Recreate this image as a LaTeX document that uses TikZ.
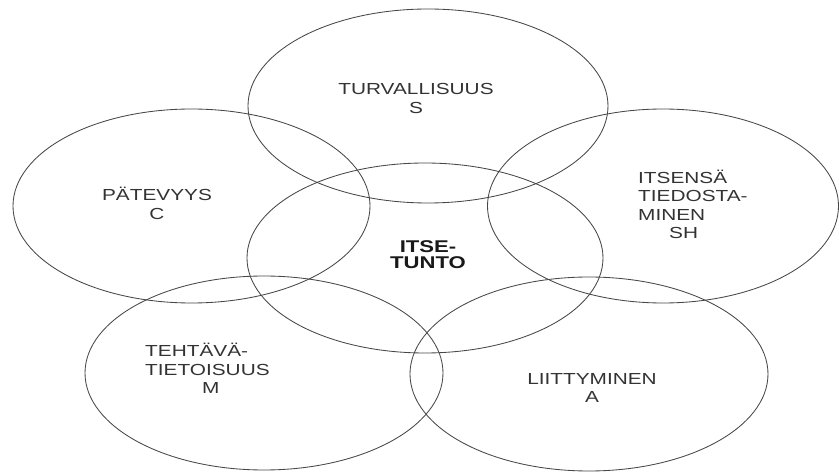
\documentclass[tikz,border=0pt]{standalone}
\usepackage{fontspec}
\setmainfont[FakeStretch=1.3]{Liberation Sans}
\begin{document}
\begin{tikzpicture}[x=1pt,y=-1pt,
  ring/.style={draw=black!72, line width=0.85pt},
  lbl/.style={inner sep=0pt, text=black!80, font=\fontsize{16}{18.5}\selectfont},
  bold lbl/.style={inner sep=0pt, text=black!90, font=\fontsize{17}{16}\selectfont\bfseries}]
\useasboundingbox (0,0) rectangle (839,473);
% ellipses
\draw[ring] (428,106) ellipse [x radius=180, y radius=97];
\draw[ring] (191.5,206) ellipse [x radius=178.5, y radius=97];
\draw[ring] (663,206) ellipse [x radius=175.5, y radius=97];
\draw[ring] (425,258) ellipse [x radius=178, y radius=95];
\draw[ring] (264,373) ellipse [x radius=179, y radius=97];
\draw[ring] (589,374) ellipse [x radius=179, y radius=97];
% labels
\node[lbl, align=center] (s) at (416,98.5) {TURVALLISUUS\\S};
\node[lbl, align=center] (c) at (157,203.5) {PÄTEVYYS\\C};
\node[lbl, align=left, anchor=west] (sh) at (638,204.5) {ITSENSÄ\\TIEDOSTA-\\MINEN\\\hspace*{31pt}SH};
\node[bold lbl, align=center] (it) at (428,255) {ITSE-\\TUNTO};
\node[lbl, align=left, anchor=west] (m) at (145,368.5) {TEHTÄVÄ-\\TIETOISUUS\\\hspace*{57pt}M};
\node[lbl, align=center] (a) at (592,388) {LIITTYMINEN\\A};
\end{tikzpicture}
\end{document}
